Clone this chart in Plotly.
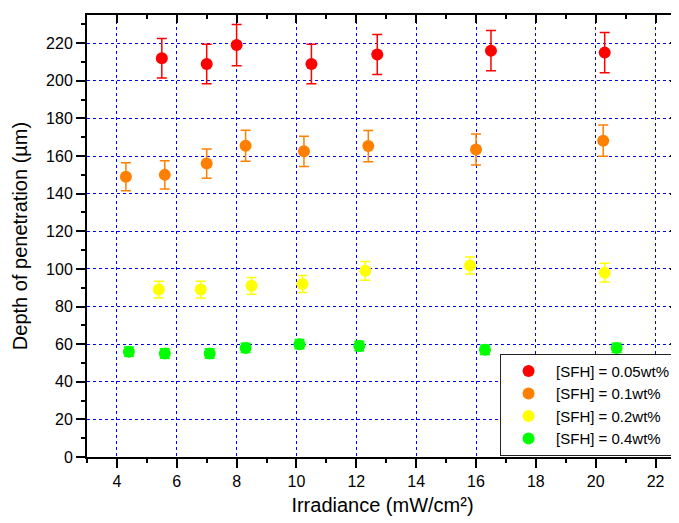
import plotly.graph_objects as go

# ---- data ----
series_names = ["[SFH] = 0.05wt%", "[SFH] = 0.1wt%", "[SFH] = 0.2wt%", "[SFH] = 0.4wt%"]
colors = ["#ff0000", "#ff8000", "#ffff00", "#00ff00"]

x_005 = [5.5, 7.0, 8.0, 10.5, 12.7, 16.5, 20.3]
y_005 = [212, 209, 219, 209, 214, 216, 215]
e_005 = [10.5, 10.5, 11, 10.5, 10.6, 10.7, 10.7]

x_01 = [4.3, 5.6, 7.0, 8.3, 10.25, 12.4, 16.0, 20.25]
y_01 = [149, 150, 156, 165.5, 162.5, 165.3, 163.5, 168.2]
e_01 = [7.5, 7.5, 7.8, 8.2, 8.0, 8.3, 8.2, 8.3]

x_02 = [5.4, 6.8, 8.5, 10.2, 12.3, 15.8, 20.3]
y_02 = [89, 89, 91, 92, 99, 101.8, 98]
e_02 = [4.5, 4.5, 4.5, 4.5, 5, 4.5, 5]

x_04 = [4.4, 5.6, 7.1, 8.3, 10.1, 12.1, 16.3, 20.7]
y_04 = [56, 55, 55, 58, 60, 59, 57, 58]
e_04 = [2.5, 2.5, 2.5, 2.5, 2.5, 2.5, 2.5, 2.5]

xs = [x_005, x_01, x_02, x_04]
ys = [y_005, y_01, y_02, y_04]
es = [e_005, e_01, e_02, e_04]

x_range = [3, 22.75]
y_range = [0, 235]

fig = go.Figure()
for name, c, x, y, e in zip(series_names, colors, xs, ys, es):
    fig.add_trace(go.Scatter(
        x=x, y=y, mode="markers", name=name,
        marker=dict(color=c, size=12, line=dict(width=0)),
        error_y=dict(type="data", array=e, visible=True, color=c, thickness=1.5, width=5),
    ))

# empty trace to register mirrored axes
fig.add_trace(go.Scatter(x=[], y=[], xaxis="x2", yaxis="y2", showlegend=False, hoverinfo="skip"))

FONT = "Liberation Sans, Arial, sans-serif"
common = dict(showline=True, linecolor="black", linewidth=2, zeroline=False, automargin=False)

# page body has an 8px margin, so the figure is sized to fill the rest of the window
fig.update_layout(
    width=671, height=515,
    margin=dict(l=79, r=1, t=7, b=66, autoexpand=False),
    paper_bgcolor="white", plot_bgcolor="white",
    font=dict(family=FONT, color="black", size=16),
    showlegend=True,
    legend=dict(
        x=0.995, y=0.003, xanchor="right", yanchor="bottom",
        bgcolor="white", bordercolor="#222222", borderwidth=1,
        font=dict(family=FONT, size=15, color="black"),
        itemwidth=45, tracegroupgap=0,
    ),
    xaxis=dict(
        range=x_range, domain=[0, 1], **common,
        ticks="outside", ticklen=9, tickwidth=1.5, tickcolor="black",
        tick0=0, dtick=2,
        minor=dict(ticks="outside", ticklen=4, dtick=1, tick0=0, tickcolor="black", showgrid=False),
        showgrid=True, gridcolor="#0000ff", gridwidth=1, griddash="dot",
        tickfont=dict(size=16),
        title=dict(text="Irradiance (mW/cm²)", font=dict(size=20), standoff=9),
    ),
    yaxis=dict(
        range=y_range, domain=[0, 1], **common,
        ticks="outside", ticklen=9, tickwidth=1.5, tickcolor="black",
        tick0=0, dtick=20,
        minor=dict(ticks="outside", ticklen=4, dtick=10, tick0=0, tickcolor="black", showgrid=False),
        showgrid=True, gridcolor="#0000ff", gridwidth=1, griddash="dot",
        tickfont=dict(size=16),
        title=dict(text="Depth of penetration (µm)", font=dict(size=20), standoff=13),
    ),
    xaxis2=dict(
        range=x_range, overlaying="x", side="top", anchor="y2", **common,
        ticks="inside", ticklen=8, tickwidth=1.5, tickcolor="black",
        tick0=0, dtick=2, showticklabels=False, showgrid=False,
        minor=dict(ticks="inside", ticklen=4, dtick=1, tick0=0, tickcolor="black", showgrid=False),
    ),
    yaxis2=dict(
        range=y_range, overlaying="y", side="right", anchor="x2", **common,
        ticks="inside", ticklen=8, tickwidth=1.5, tickcolor="black",
        tick0=0, dtick=20, showticklabels=False, showgrid=False,
        minor=dict(ticks="inside", ticklen=4, dtick=10, tick0=0, tickcolor="black", showgrid=False),
    ),
)

fig.write_html("out.html")
